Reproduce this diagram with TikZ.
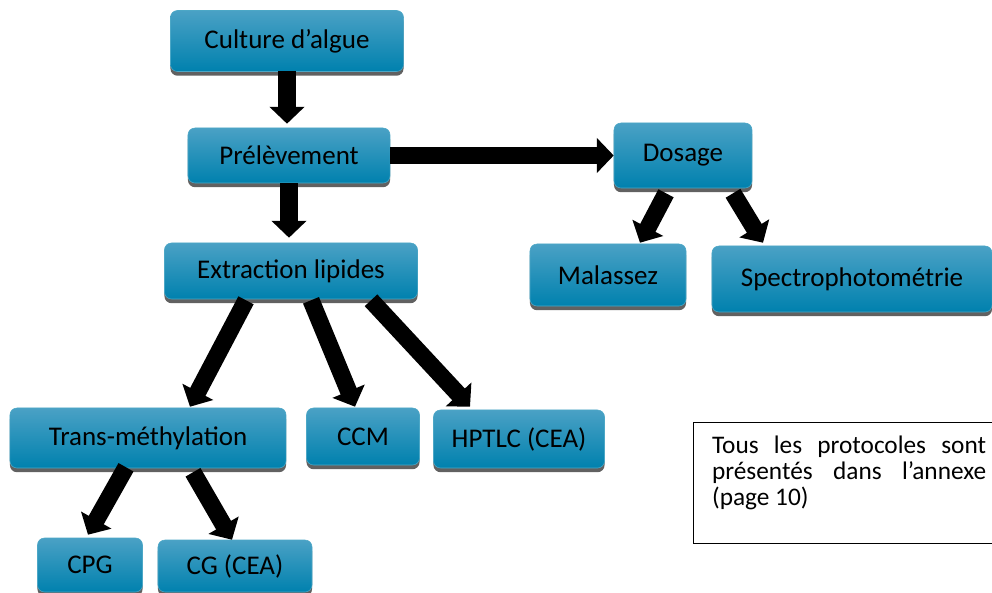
\documentclass[tikz,border=0pt]{standalone}
\usepackage{fontspec}
\setmainfont{Carlito}
\usetikzlibrary{arrows.meta, positioning, calc, shadows}
\definecolor{boxtop}{RGB}{74,161,197}
\definecolor{boxbot}{RGB}{0,129,174}

\begin{document}
\begin{tikzpicture}[x=0.025cm, y=-0.025cm,
    stepbox/.style={rounded corners=5pt, top color=boxtop, bottom color=boxbot, draw=boxbot!70,
      drop shadow={shadow xshift=0pt, shadow yshift=-3pt, fill=black!62, opacity=1},
      inner sep=0pt, font=\fontsize{19.2}{23}\selectfont},
    bigarrow/.style={line width=0.43cm, -{Triangle[width=0.85cm, length=0.42cm]}}]
        \useasboundingbox (0,0) rectangle (992,592);
        % boxes
        \node[stepbox, minimum width=5.825cm, minimum height=1.525cm] (cult) at (287,41) {Culture d’algue};
        \node[stepbox, minimum width=5.05cm, minimum height=1.375cm] (prel) at (289,155.5) {Prélèvement};
        \node[stepbox, minimum width=3.45cm, minimum height=1.625cm] (dos) at (683,155.5) {Dosage};
        \node[stepbox, minimum width=3.9cm, minimum height=1.55cm] (mal) at (608,275) {Malassez};
        \node[stepbox, minimum width=7cm, minimum height=1.65cm] (spec) at (852,279) {Spectrophotométrie};
        \node[stepbox, minimum width=6.325cm, minimum height=1.4cm] (extr) at (291,271) {Extraction lipides};
        \node[stepbox, minimum width=6.9cm, minimum height=1.5cm] (trans) at (148,438) {Trans-méthylation};
        \node[stepbox, minimum width=2.825cm, minimum height=1.425cm] (ccm) at (363,436.5) {CCM};
        \node[stepbox, minimum width=4.275cm, minimum height=1.45cm] (hptlc) at (519,439) {HPTLC (CEA)};
        \node[stepbox, minimum width=2.625cm, minimum height=1.35cm] (cpg) at (90,565) {CPG};
        \node[stepbox, minimum width=3.85cm, minimum height=1.3cm] (cg) at (235,566) {CG (CEA)};

        % note
        \node[draw, fill=white, anchor=north west, inner xsep=0.47cm, inner ysep=0.15cm,
          font=\fontsize{18}{18.2}\selectfont] (note) at (693,422)
          {\parbox[c][2.725cm][t]{6.85cm}{\vspace*{0.2cm}Tous les protocoles sont présentés dans l’annexe (page~10)}};

        % arrows
        \draw[bigarrow] ($(cult.south)+(0,-1)$) -- ($(cult.south |- prel.north)+(0,-4)$);
        \draw[bigarrow] (prel.east) -- (dos.west);
        \draw[bigarrow] (prel.south) -- ($(prel.south |- extr.north)+(0,-5)$);
        \draw[bigarrow] ($(dos.south)+(-17,5)$) -- ($(mal.north)+(32,-1)$);
        \draw[bigarrow] ($(dos.south)+(50,5)$) -- ($(spec.north)+(-89,-3)$);
        \draw[bigarrow] ($(extr.south)+(-45,1)$) -- ($(trans.north)+(42,-1)$);
        \draw[bigarrow] ($(extr.south)+(20,1)$) -- ($(ccm.north)+(-8,-1)$);
        \draw[bigarrow] ($(extr.south)+(80,1)$) -- ($(hptlc.north)+(-49,-3)$);
        \draw[bigarrow] ($(trans.south)+(-22,-1)$) -- ($(cpg.north)+(-2,-3)$);
        \draw[bigarrow] ($(trans.south)+(45,4)$) -- ($(cg.north)+(-3,0)$);
      \end{tikzpicture}
\end{document}
